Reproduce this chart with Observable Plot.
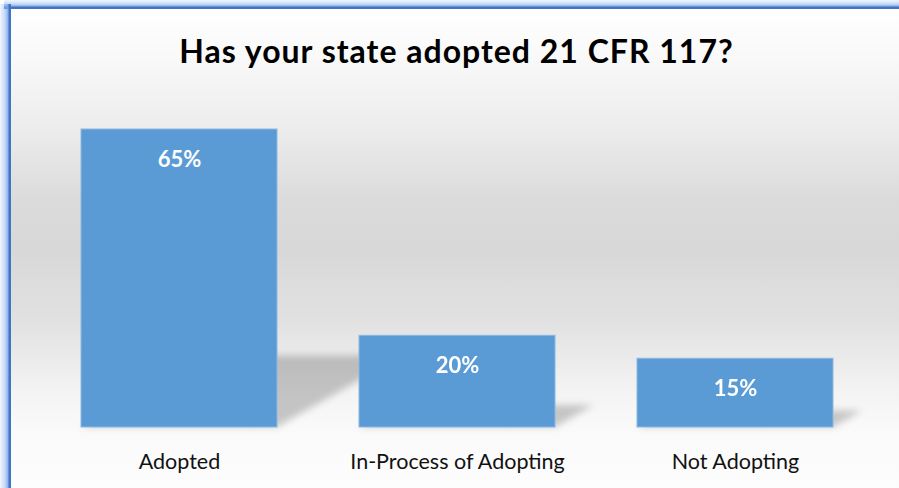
<!DOCTYPE html>
<html>
<head>
<meta charset="utf-8">
<script src="https://cdn.jsdelivr.net/npm/d3@7"></script>
<script src="https://cdn.jsdelivr.net/npm/@observablehq/plot@0.6"></script>
<style>
  html, body { margin: 0; padding: 0; width: 899px; height: 488px; overflow: hidden; background: #ffffff; }
  #wrap { position: relative; width: 899px; height: 488px; overflow: hidden; }
  #bg {
    position: absolute; left: 11px; top: 9px; width: 888px; height: 479px;
    background: linear-gradient(to bottom, #ffffff 0px, #f9f9f9 48px, #ececec 121px, #dbdbdb 191px, #d8d8d8 241px, #e1e1e1 311px, #f3f3f3 381px, #fafafa 421px, #fdfdfd 479px);
  }
  #gt {
    position: absolute; left: 4px; top: 0; width: 895px; height: 9px;
    background: linear-gradient(to bottom, rgba(170,195,240,0.15) 0px, rgba(150,185,240,0.55) 4px, rgba(120,165,235,0.85) 6px, #4472c4 7px, #4472c4 9px);
  }
  #gl {
    position: absolute; left: 0; top: 4px; width: 11px; height: 484px;
    background: linear-gradient(to right, rgba(170,195,240,0.15) 0px, rgba(150,185,240,0.55) 5px, rgba(120,165,235,0.85) 8px, #4472c4 9px, #4472c4 11px);
  }
  #title {
    position: absolute; left: 7px; width: 899px; top: 35.5px; text-align: center;
    font-family: Lato, sans-serif; font-weight: bold; font-size: 32px; letter-spacing: 1px; line-height: 30px; color: #000;
  }
  #chart { position: absolute; left: 0; top: 90px; }
</style>
</head>
<body>
<div id="wrap">
<div id="bg"></div>
<div id="gt"></div>
<div id="gl"></div>
<div id="title">Has your state adopted 21 CFR 117?</div>
<div id="chart"></div>
</div>
<script>
const categories = ["Adopted", "In-Process of Adopting", "Not Adopting"];
const values = [65, 20, 15];
const valueLabels = ["65%", "20%", "15%"];

const data = categories.map((c, i) => ({cat: c, value: values[i], label: valueLabels[i]}));

const plot = Plot.plot({
  width: 899,
  height: 398,
  marginLeft: 39,
  marginRight: 24,
  marginTop: 39,
  marginBottom: 61,
  style: {background: "transparent", fontFamily: "Lato, sans-serif", fontSize: "21.5px", color: "#111", overflow: "visible"},
  x: {domain: categories, padding: 0, label: null, tickSize: 0, tickPadding: 26},
  y: {domain: [0, 65], axis: null},
  marks: [
    Plot.barY(data, {x: "cat", y: "value", fill: "#000", fillOpacity: 0.2, insetLeft: 41, insetRight: 41}),
    Plot.barY(data, {x: "cat", y: "value", fill: "#5b9bd5", stroke: "#8db8e3", strokeWidth: 1, insetLeft: 41, insetRight: 41}),
    Plot.text(data, {x: "cat", y: "value", text: "label", dy: 37.5, lineAnchor: "bottom", fill: "white", fontWeight: "bold", fontSize: 22})
  ]
});
document.getElementById("chart").appendChild(plot);

// perspective shadow for the first bar layer
const svg = d3.select(plot.tagName.toLowerCase() === "svg" ? plot : plot.querySelector("svg"));
const defs = svg.insert("defs", ":first-child");
const f = defs.append("filter").attr("id", "shblur").attr("x", "-30%").attr("y", "-80%").attr("width", "160%").attr("height", "260%");
f.append("feGaussianBlur").attr("stdDeviation", 3.5);
const groups = svg.selectAll('g[aria-label="bar"]').nodes();
if (groups.length) {
  const g = d3.select(groups[0]);
  g.attr("filter", "url(#shblur)");
  const c = 0.42, s = 0.24;
  g.selectAll("rect").each(function() {
    const r = d3.select(this);
    const y = +r.attr("y"), h = +r.attr("height");
    const base = y + h;
    r.attr("transform", `matrix(1,0,${-c},${s},${c * base},${(1 - s) * base})`);
  });
}
</script>
</body>
</html>
